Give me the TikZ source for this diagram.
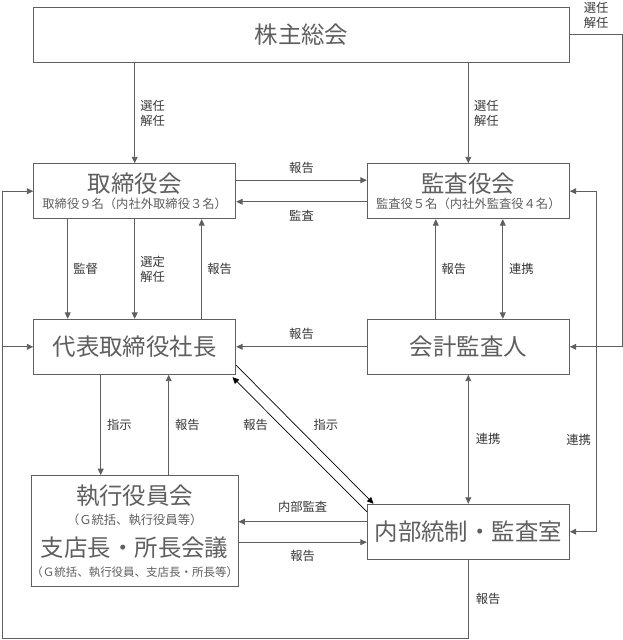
\documentclass[tikz,border=0pt]{standalone}
\usepackage{fontspec}
\newfontfamily\jpfont{Noto Sans CJK JP}
\usetikzlibrary{arrows.meta,calc}
\definecolor{linegray}{RGB}{95,95,95}
\definecolor{labelgray}{RGB}{55,55,55}
\newcommand{\bigjp}{\jpfont\fontsize{20}{22.5}\selectfont}
\newcommand{\smalljp}{\jpfont\fontsize{10.5}{12.8}\selectfont}
\newcommand{\tinyjp}{\jpfont\fontsize{9.8}{12}\selectfont}
\begin{document}
\begin{tikzpicture}[x=0.03cm,y=-0.03cm,
  >={Triangle[length=5.5pt,width=5pt]},
  box/.style={draw=linegray,line width=0.8pt,fill=white,inner sep=0pt,
    minimum width=6.06cm,minimum height=1.65cm,align=center,font=\bigjp},
  lbl/.style={font=\smalljp,text=labelgray,inner sep=1pt,align=left},
  every path/.style={linegray,line width=0.8pt}]
\useasboundingbox (0,0) rectangle (623,640);
\node[box,minimum width=16.09cm] (soukai) at (301.5,34.8) {株主総会};
\node[box] (torishimari) at (134.7,191.2)
  {取締役会\\[-9.1pt]{\smalljp 取締役９名（内社外取締役３名）}};
\node[box] (kansayaku) at (468.3,191.2)
  {監査役会\\[-9.1pt]{\smalljp 監査役５名（内社外監査役４名）}};
\node[box] (daihyo) at (134.7,346.8) {代表取締役社長};
\node[box] (kaikei) at (468.3,346.8) {会計監査人};
\node[box,minimum height=3.31cm] (shikko) at (134.7,530.8)
  {執行役員会\\[-4.7pt]{\smalljp （Ｇ統括、執行役員等）}\\[4.8pt]
   支店長・所長会議\\[-6pt]{\tinyjp （Ｇ統括、執行役員、支店長・所長等）}};
\node[box] (naibu) at (468.3,531.7) {内部統制・監査室};
%株主総会
\draw[->] (soukai.south -| torishimari.north) -- (torishimari.north)
  node[lbl,midway,right=3.5pt]{選任\\解任};
\draw[->] (soukai.south -| kansayaku.north) -- (kansayaku.north)
  node[lbl,midway,right=3.5pt]{選任\\解任};
\draw[->] (soukai.east) -- (622.3,34.8) node[lbl,midway,above=3.7pt]{選任\\解任}
  |- (kaikei.east);
%取締役会 <-> 監査役会
\draw[->] ($(torishimari.east)+(0,-11)$) -- ($(kansayaku.west)+(0,-11)$)
  node[lbl,midway,above=4pt]{報告};
\draw[->] ($(kansayaku.west)+(0,10.5)$) -- ($(torishimari.east)+(0,10.5)$)
  node[lbl,midway,below=5.5pt]{監査};
%取締役会 <-> 代表取締役社長
\draw[->] ($(torishimari.south)+(-67,0)$) -- ($(daihyo.north)+(-67,0)$)
  node[lbl,midway,right=3.5pt]{監督};
\draw[->] (torishimari.south) -- (daihyo.north)
  node[lbl,midway,right=3.5pt]{選定\\解任};
\draw[->] ($(daihyo.north)+(67,0)$) -- ($(torishimari.south)+(67,0)$)
  node[lbl,midway,right=3.5pt]{報告};
%会計監査人
\draw[->] ($(kaikei.north)+(-32.5,0)$) -- ($(kansayaku.south)+(-32.5,0)$)
  node[lbl,midway,right=3.5pt]{報告};
\draw[<->] ($(kaikei.north)+(34.5,0)$) -- ($(kansayaku.south)+(34.5,0)$)
  node[lbl,midway,right=4pt]{連携};
\draw[->] (kaikei.west) -- (daihyo.east) node[lbl,midway,above=4.5pt]{報告};
\draw[<->] (kaikei.south) -- (naibu.north) node[lbl,midway,right=5pt]{連携};
\draw[<->] (kansayaku.east) -| (596.7,440) node[lbl,left=3.5pt]{連携} |- (naibu.east);
%代表取締役社長 <-> 執行役員会
\draw[->] ($(daihyo.south)+(-34,0)$) -- ($(shikko.north)+(-34,0)$)
  node[lbl,midway,right=4pt]{指示};
\draw[->] ($(shikko.north)+(34,0)$) -- ($(daihyo.south)+(34,0)$)
  node[lbl,midway,right=4pt]{報告};
%代表取締役社長 <-> 内部統制・監査室
\draw[->,black,line width=0.6pt] ($(daihyo.south east)+(0,-9.5)$) -- ($(naibu.north west)+(6.7,0)$)
  node[lbl,pos=0.43,right=14.4pt]{指示};
\draw[->,black,line width=0.6pt] ($(naibu.north west)+(0,8)$) -- ($(daihyo.south east)+(-3.7,2.4)$)
  node[lbl,pos=0.644,left=9.2pt]{報告};
%内部統制・監査室 <-> 執行役員会
\coordinate (n1) at ($(naibu.west)+(0,-10)$);
\coordinate (n2) at ($(naibu.west)+(0,10.5)$);
\draw[->] (n1) -- (n1 -| shikko.east) node[lbl,midway,above=6.5pt]{内部監査};
\draw[->] (n2 -| shikko.east) -- (n2) node[lbl,midway,below=5.5pt]{報告};
%報告 (下の線)
\coordinate (lft) at (2.5,638.5);
\draw[->] (naibu.south) -- (naibu.south |- lft) node[lbl,midway,right=5pt]{報告}
  -- (lft) |- (torishimari.west);
\draw[->] (lft |- daihyo.west) -- (daihyo.west);
\end{tikzpicture}
\end{document}
